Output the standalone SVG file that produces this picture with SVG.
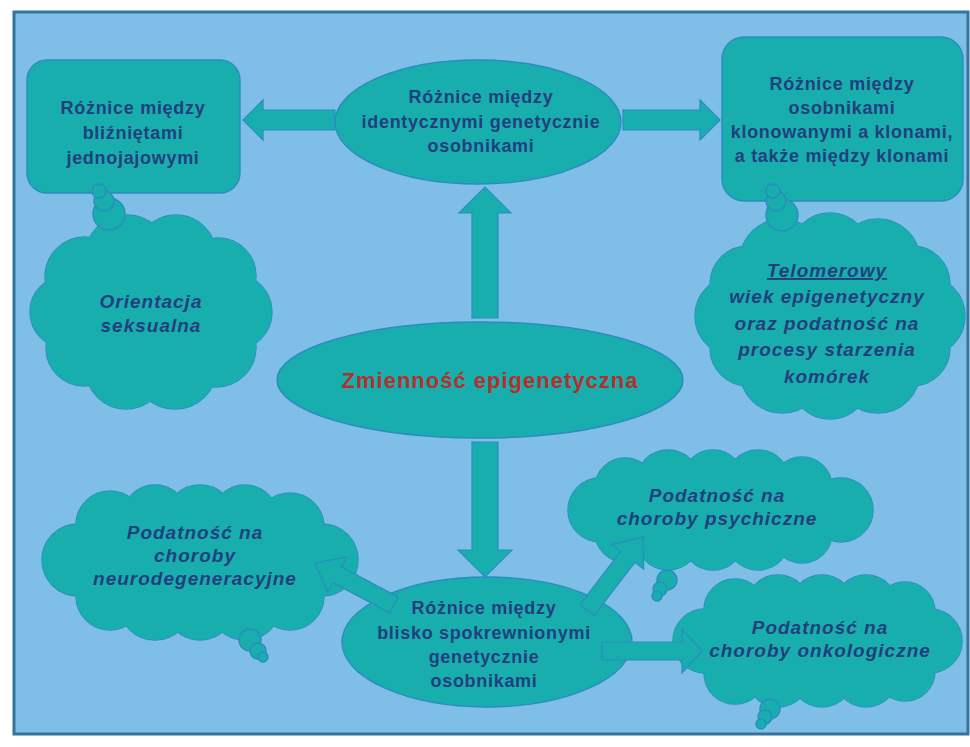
<svg xmlns="http://www.w3.org/2000/svg" xmlns:xlink="http://www.w3.org/1999/xlink" width="970" height="747" viewBox="0 0 970 747">
  <style>
    .panel { fill: #7ebee7; stroke: #33739c; stroke-width: 3; }
    .shape { fill: #19aeae; stroke: #2a8cc0; stroke-width: 1.4; }
    .cover { fill: #19aeae; stroke: none; }
    .arrow { fill: #19aeae; stroke: #2a8cc0; stroke-width: 1.2; stroke-linejoin: miter; }
    .t { font-family: "Liberation Sans", Arial, sans-serif; font-weight: bold; font-size: 18px; fill: #213f7e; text-anchor: middle; letter-spacing: 0.7px; }
    .ti { font-family: "Liberation Sans", Arial, sans-serif; font-weight: bold; font-style: italic; font-size: 19px; fill: #213f7e; text-anchor: middle; letter-spacing: 1px; }
    .main { font-family: "Liberation Sans", Arial, sans-serif; font-weight: bold; font-size: 22px; fill: #b3312c; text-anchor: middle; letter-spacing: 1px; }
  </style>
  <defs>
    <!-- cloud bodies: a core ellipse ringed by overlapping circles -->
    <g id="cloud-orient">
      <ellipse cx="151" cy="312" rx="90" ry="70"/>
      <circle cx="234" cy="312" r="38"/>
      <circle cx="216" cy="347" r="40"/>
      <circle cx="175" cy="367" r="42"/>
      <circle cx="126" cy="369" r="40"/>
      <circle cx="84" cy="348" r="38"/>
      <circle cx="66" cy="312" r="36"/>
      <circle cx="85" cy="277" r="40"/>
      <circle cx="127" cy="257" r="42"/>
      <circle cx="176" cy="255" r="40"/>
      <circle cx="218" cy="276" r="38"/>
    </g>
    <g id="cloud-telo">
      <ellipse cx="830" cy="316" rx="100" ry="70"/>
      <circle cx="925" cy="316" r="40"/>
      <circle cx="912" cy="348" r="38"/>
      <circle cx="878" cy="371" r="42"/>
      <circle cx="830" cy="379" r="40"/>
      <circle cx="782" cy="371" r="42"/>
      <circle cx="748" cy="348" r="38"/>
      <circle cx="735" cy="316" r="40"/>
      <circle cx="748" cy="284" r="38"/>
      <circle cx="782" cy="261" r="42"/>
      <circle cx="830" cy="253" r="40"/>
      <circle cx="878" cy="261" r="42"/>
      <circle cx="912" cy="284" r="38"/>
    </g>
    <g id="cloud-neuro">
      <ellipse cx="200" cy="562" rx="130" ry="50"/>
      <circle cx="78" cy="560" r="36"/>
      <circle cx="110" cy="525" r="34"/>
      <circle cx="155" cy="518" r="33"/>
      <circle cx="200" cy="520" r="35"/>
      <circle cx="245" cy="518" r="33"/>
      <circle cx="290" cy="527" r="34"/>
      <circle cx="322" cy="560" r="36"/>
      <circle cx="290" cy="596" r="34"/>
      <circle cx="245" cy="604" r="36"/>
      <circle cx="200" cy="605" r="35"/>
      <circle cx="155" cy="604" r="36"/>
      <circle cx="110" cy="596" r="34"/>
    </g>
    <g id="cloud-psych">
      <ellipse cx="720" cy="510" rx="125" ry="38"/>
      <circle cx="600" cy="510" r="32"/>
      <circle cx="625" cy="488" r="30"/>
      <circle cx="668" cy="482" r="32"/>
      <circle cx="713" cy="481" r="31"/>
      <circle cx="758" cy="482" r="32"/>
      <circle cx="802" cy="487" r="30"/>
      <circle cx="841" cy="510" r="32"/>
      <circle cx="802" cy="533" r="30"/>
      <circle cx="758" cy="538" r="32"/>
      <circle cx="713" cy="539" r="31"/>
      <circle cx="668" cy="538" r="32"/>
      <circle cx="625" cy="532" r="30"/>
    </g>
    <g id="cloud-onko">
      <ellipse cx="818" cy="641" rx="120" ry="42"/>
      <circle cx="705" cy="641" r="32"/>
      <circle cx="735" cy="610" r="31"/>
      <circle cx="778" cy="607" r="32"/>
      <circle cx="822" cy="607" r="32"/>
      <circle cx="866" cy="607" r="32"/>
      <circle cx="905" cy="612" r="30"/>
      <circle cx="930" cy="641" r="32"/>
      <circle cx="905" cy="671" r="30"/>
      <circle cx="866" cy="675" r="32"/>
      <circle cx="822" cy="675" r="32"/>
      <circle cx="778" cy="675" r="32"/>
      <circle cx="735" cy="673" r="31"/>
    </g>
  </defs>

  <rect x="0" y="0" width="970" height="747" fill="#ffffff"/>
  <rect class="panel" x="14" y="12" width="954" height="722"/>

  <!-- top row -->
  <g id="twins">
    <rect class="shape" x="27" y="60" width="213" height="133" rx="20"/>
    <text class="t" letter-spacing="0.2" x="133" y="114">Różnice między</text>
    <text class="t" letter-spacing="0.2" x="133" y="139">bliźniętami</text>
    <text class="t" letter-spacing="0.2" x="133" y="164">jednojajowymi</text>
  </g>

  <g id="identical">
    <ellipse class="shape" cx="478" cy="122" rx="143" ry="62"/>
    <text class="t" x="481" y="103">Różnice między</text>
    <text class="t" x="481" y="128">identycznymi genetycznie</text>
    <text class="t" x="481" y="152">osobnikami</text>
  </g>

  <g id="clones">
    <rect class="shape" x="722" y="37" width="241" height="164" rx="22"/>
    <text class="t" letter-spacing="0.4" x="842" y="90">Różnice między</text>
    <text class="t" letter-spacing="0.4" x="842" y="114">osobnikami</text>
    <text class="t" letter-spacing="0.4" x="842" y="138">klonowanymi a klonami,</text>
    <text class="t" letter-spacing="0.4" x="842" y="162">a także między klonami</text>
  </g>

  <!-- thought clouds, upper half -->
  <g id="orientation">
    <use xlink:href="#cloud-orient" class="shape"/>
    <use xlink:href="#cloud-orient" class="cover"/>
    <circle class="shape" cx="109" cy="214" r="16"/>
    <circle class="shape" cx="104" cy="201" r="10"/>
    <circle class="shape" cx="99" cy="191" r="7"/>
    <text class="ti" x="151" y="308">Orientacja</text>
    <text class="ti" x="151" y="332">seksualna</text>
  </g>

  <g id="telomere">
    <use xlink:href="#cloud-telo" class="shape"/>
    <use xlink:href="#cloud-telo" class="cover"/>
    <circle class="shape" cx="782" cy="215" r="16"/>
    <circle class="shape" cx="776" cy="201" r="10"/>
    <circle class="shape" cx="773" cy="191" r="7"/>
    <text class="ti" x="827" y="277" text-decoration="underline">Telomerowy</text>
    <text class="ti" x="827" y="303">wiek epigenetyczny</text>
    <text class="ti" x="827" y="330">oraz podatność na</text>
    <text class="ti" x="827" y="356">procesy starzenia</text>
    <text class="ti" x="827" y="383">komórek</text>
  </g>

  <!-- centre -->
  <g id="epigenetic">
    <ellipse class="shape" cx="480" cy="380" rx="203" ry="58"/>
    <text class="main" x="490" y="388">Zmienność epigenetyczna</text>
  </g>

  <!-- lower half -->
  <g id="neuro">
    <use xlink:href="#cloud-neuro" class="shape"/>
    <use xlink:href="#cloud-neuro" class="cover"/>
    <circle class="shape" cx="250" cy="640" r="11"/>
    <circle class="shape" cx="258" cy="651" r="8"/>
    <circle class="shape" cx="263" cy="657" r="5"/>
    <text class="ti" x="195" y="539">Podatność na</text>
    <text class="ti" x="195" y="562">choroby</text>
    <text class="ti" x="195" y="585">neurodegeneracyjne</text>
  </g>

  <g id="psych">
    <use xlink:href="#cloud-psych" class="shape"/>
    <use xlink:href="#cloud-psych" class="cover"/>
    <circle class="shape" cx="667" cy="580" r="10"/>
    <circle class="shape" cx="660" cy="589" r="7"/>
    <circle class="shape" cx="657" cy="596" r="5"/>
    <text class="ti" x="717" y="502">Podatność na</text>
    <text class="ti" x="717" y="525">choroby psychiczne</text>
  </g>

  <g id="onco">
    <use xlink:href="#cloud-onko" class="shape"/>
    <use xlink:href="#cloud-onko" class="cover"/>
    <circle class="shape" cx="770" cy="709" r="10"/>
    <circle class="shape" cx="765" cy="717" r="7"/>
    <circle class="shape" cx="761" cy="724" r="5"/>
    <text class="ti" x="820" y="634">Podatność na</text>
    <text class="ti" x="820" y="657">choroby onkologiczne</text>
  </g>

  <g id="relatives">
    <ellipse class="shape" cx="487" cy="642" rx="145" ry="65"/>
    <text class="t" x="484" y="614">Różnice między</text>
    <text class="t" x="484" y="639">blisko spokrewnionymi</text>
    <text class="t" x="484" y="663">genetycznie</text>
    <text class="t" x="484" y="687">osobnikami</text>
  </g>

  <!-- block arrows -->
  <g id="connectors">
    <polygon class="arrow" points="335,110 263,110 263,100 243,120 263,140 263,130 335,130"/>
    <polygon class="arrow" points="623,110 700,110 700,100 720,120 700,140 700,130 623,130"/>
    <polygon class="arrow" points="472,318 472,213 459,213 485,187 511,213 498,213 498,318"/>
    <polygon class="arrow" points="472,442 498,442 498,550 512,550 485,577 458,550 472,550"/>
    <polygon class="arrow" points="398.2,597.1 341.3,566.8 346.5,557 315,563 327.7,592.4 332.9,582.6 389.8,612.9"/>
    <polygon class="arrow" points="579.9,604.5 620.7,551.3 611.9,544.6 643,537 643.7,569 634.9,562.3 594.1,615.5"/>
    <polygon class="arrow" points="602,642 682,642 682,629 702,651 682,673 682,660 602,660"/>
  </g>
</svg>
